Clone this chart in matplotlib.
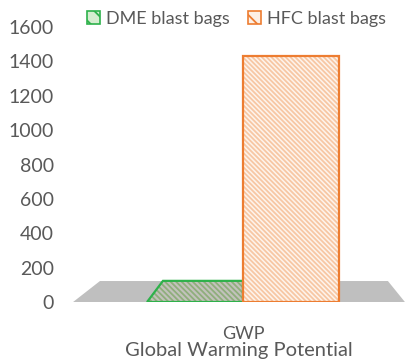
import matplotlib.pyplot as plt
from matplotlib.patches import Polygon, Patch

# Datos
categorias = ["GWP"]
series = ["DME blast bags", "HFC blast bags"]
valores = [1, 1430]
ticks_y = [0, 200, 400, 600, 800, 1000, 1200, 1400, 1600]

GRIS_TEXTO = "#595959"
GRIS_SUELO = "#BFBFBF"
VERDE = "#2EB14B"
NARANJA = "#ED7D31"

plt.rcParams["font.family"] = ["Lato", "DejaVu Sans"]
plt.rcParams["hatch.linewidth"] = 1.3

fig = plt.figure(figsize=(4.06, 3.64), dpi=100)
ax = fig.add_axes([72 / 406, 62 / 364, 334 / 406, 275 / 364])

ancho = 0.35
fondo = 122      # profundidad del suelo en unidades del eje
sesgo = 0.058    # desplazamiento horizontal de la cara superior

# suelo gris en perspectiva
suelo = Polygon([(-0.620, 0), (0.591, 0), (0.529, fondo), (-0.522, fondo)],
                closed=True, facecolor=GRIS_SUELO, edgecolor="none", zorder=1)
ax.add_patch(suelo)

# barra DME (casi nula): se ve solo la cara superior
x0 = -ancho
v = valores[0]
cara = [(x0, 0), (x0 + sesgo, v + fondo), (0, v + fondo), (0, 0)]
ax.add_patch(Polygon(cara, closed=True, facecolor="#C2C2BC", edgecolor="#8FAE7C",
                     hatch="\\" * 6, linewidth=0, zorder=2))
ax.add_patch(Polygon(cara, closed=True, facecolor="none", edgecolor=VERDE,
                     linewidth=1.6, zorder=3))

# barra HFC
ax.bar(0, valores[1], width=ancho, align="edge", color="#FEF4EC",
       edgecolor="#F7C7A4", hatch="\\" * 7, linewidth=0, zorder=4)
ax.bar(0, valores[1], width=ancho, align="edge", color="none",
       edgecolor=NARANJA, linewidth=1.6, zorder=5)

ax.set_xlim(-0.624, 0.595)
ax.set_ylim(0, 1600)
ax.set_yticks(ticks_y)
ax.set_xticks([0])
ax.set_xticklabels(categorias)
for s in ax.spines.values():
    s.set_visible(False)
ax.tick_params(axis="both", length=0, colors=GRIS_TEXTO, labelsize=13)
ax.tick_params(axis="y", pad=13, labelsize=14)
ax.tick_params(axis="x", pad=17)
ax.set_xlabel("Global Warming Potential", fontsize=14.5, color=GRIS_TEXTO, labelpad=0)

manejadores = [
    Patch(facecolor="#D5EDD0", edgecolor=VERDE, hatch="\\\\", linewidth=1.2),
    Patch(facecolor="#FDF0E6", edgecolor=NARANJA, hatch="\\\\", linewidth=1.2),
]
fig.legend(manejadores, series, loc="upper center", bbox_to_anchor=(0.5825, 1.015),
           ncol=2, frameon=False, fontsize=13, handlelength=0.7, handleheight=0.7,
           handletextpad=0.35, columnspacing=1.0, labelcolor=GRIS_TEXTO)

fig.savefig("out.png", dpi=100)
